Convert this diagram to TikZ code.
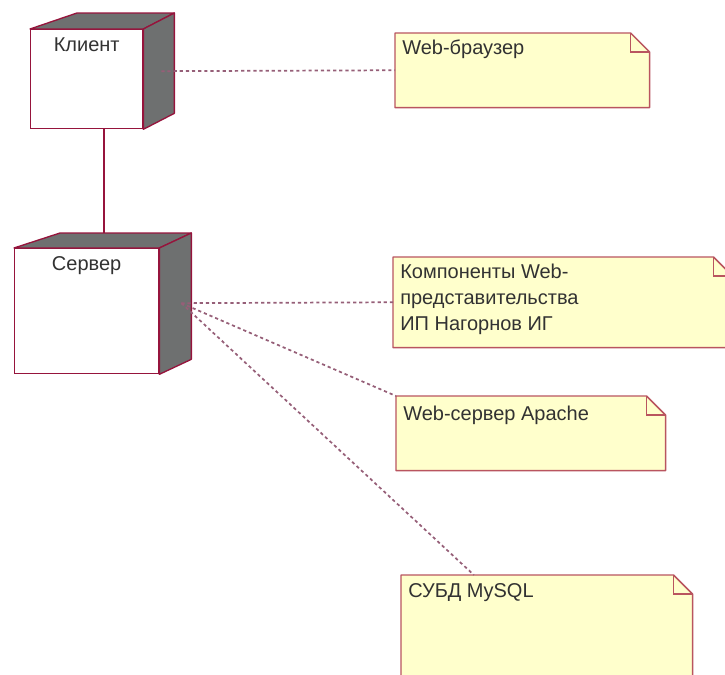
\documentclass[tikz,border=0pt]{standalone}
\usepackage{fontspec}
\setmainfont{Liberation Sans}
\usepackage{xcolor}
\usepackage{tikz}
\usetikzlibrary{positioning, calc}

\definecolor{umlred}{RGB}{150,20,60}
\definecolor{notered}{RGB}{185,85,95}
\definecolor{umlgray}{RGB}{110,112,112}
\definecolor{noteyellow}{RGB}{255,255,204}
\definecolor{tracegray}{RGB}{150,95,120}
\definecolor{textgray}{RGB}{50,50,50}

\begin{document}
\begin{tikzpicture}[x=0.75pt, y=-0.75pt,
    face/.style={draw=umlred, line width=1pt, fill=white, inner sep=0pt, anchor=north west},
    side/.style={draw=umlred, line width=1pt, fill=umlgray, line join=round},
    notebox/.style={inner sep=0pt, anchor=north west},
    note/.style={draw=notered, line width=1.1pt, fill=noteyellow, line join=round},
    fold/.style={draw=notered, line width=1.1pt},
    nodetext/.style={font=\fontsize{15}{18}\selectfont, text=textgray, inner sep=0pt},
    notetext/.style={font=\fontsize{15}{19.5}\selectfont, text=textgray, inner sep=0pt, align=left, anchor=north west},
    trace/.style={draw=tracegray, line width=1.3pt, dash pattern=on 2.4pt off 2.2pt},
    link/.style={draw=umlred, line width=0.8pt}]
    \useasboundingbox (0,0) rectangle (725,675);

    % Client - Server link
    \coordinate (servertop) at (104,233);
    \node[face, minimum width=84pt, minimum height=74.25pt] (client) at (30,29) {};
    \draw[link] (servertop |- client.south) -- (servertop);

    % Client node
    \draw[side] (client.north west) -- ++(47,-16) -- ($(client.north east)+(31,-16)$) -- (client.north east) -- cycle;
    \draw[side] (client.north east) -- ++(31,-16) -- ($(client.south east)+(31,-16)$) -- (client.south east) -- cycle;
    \node[nodetext, below=6.5pt of client.north] (clientlbl) {Клиент};

    % Server node
    \node[face, minimum width=108pt, minimum height=93.75pt] (server) at (14,248) {};
    \draw[side] (server.north west) -- ++(46,-15) -- ($(server.north east)+(32,-15)$) -- (server.north east) -- cycle;
    \draw[side] (server.north east) -- ++(32,-15) -- ($(server.south east)+(32,-15)$) -- (server.south east) -- cycle;
    \node[nodetext, below=6.5pt of server.north] (serverlbl) {Сервер};

    % Notes
    \node[notebox, minimum width=190.5pt, minimum height=55.5pt] (browser) at (395,33) {};
    \draw[note] (browser.south west) -- (browser.north west) -- ($(browser.north east)+(-19,0)$) -- ($(browser.north east)+(0,19)$) -- (browser.south east) -- cycle;
    \draw[fold] ($(browser.north east)+(-19,0)$) -- ++(0,19) -- ++(19,0);
    \node[notetext] (browsertxt) at ([shift={(7,7)}]browser.north west) {Web-браузер};

    \node[notebox, minimum width=254.25pt, minimum height=67.5pt] (components) at (393,257) {};
    \draw[note] (components.south west) -- (components.north west) -- ($(components.north east)+(-19,0)$) -- ($(components.north east)+(0,19)$) -- (components.south east) -- cycle;
    \draw[fold] ($(components.north east)+(-19,0)$) -- ++(0,19) -- ++(19,0);
    \node[notetext] (componentstxt) at ([shift={(7,7)}]components.north west) {Компоненты Web-\\представительства\\ ИП Нагорнов ИГ};

    \node[notebox, minimum width=201.75pt, minimum height=55.5pt] (apache) at (396,396) {};
    \draw[note] (apache.south west) -- (apache.north west) -- ($(apache.north east)+(-19,0)$) -- ($(apache.north east)+(0,19)$) -- (apache.south east) -- cycle;
    \draw[fold] ($(apache.north east)+(-19,0)$) -- ++(0,19) -- ++(19,0);
    \node[notetext] (apachetxt) at ([shift={(7,10)}]apache.north west) {Web-сервер Apache};

    \node[notebox, minimum width=218.25pt, minimum height=86.25pt] (mysql) at (401,575) {};
    \draw[note] (mysql.south west) -- (mysql.north west) -- ($(mysql.north east)+(-19,0)$) -- ($(mysql.north east)+(0,19)$) -- (mysql.south east) -- cycle;
    \draw[fold] ($(mysql.north east)+(-19,0)$) -- ++(0,19) -- ++(19,0);
    \node[notetext] (mysqltxt) at ([shift={(7,8)}]mysql.north west) {СУБД MySQL};

    % Dependencies
    \coordinate (clientport) at ($(client.east)+(18,-8)$);
    \coordinate (serverport) at ($(server.east)+(22,-8)$);
    \draw[trace] (clientport) -- (browser.west);
    \draw[trace] (serverport) -- (components.west);
    \draw[trace] (serverport) -- (apache.north west);
    \draw[trace] (serverport) -- ($(mysql.north west)!0.25!(mysql.north east)$);
\end{tikzpicture}
\end{document}
